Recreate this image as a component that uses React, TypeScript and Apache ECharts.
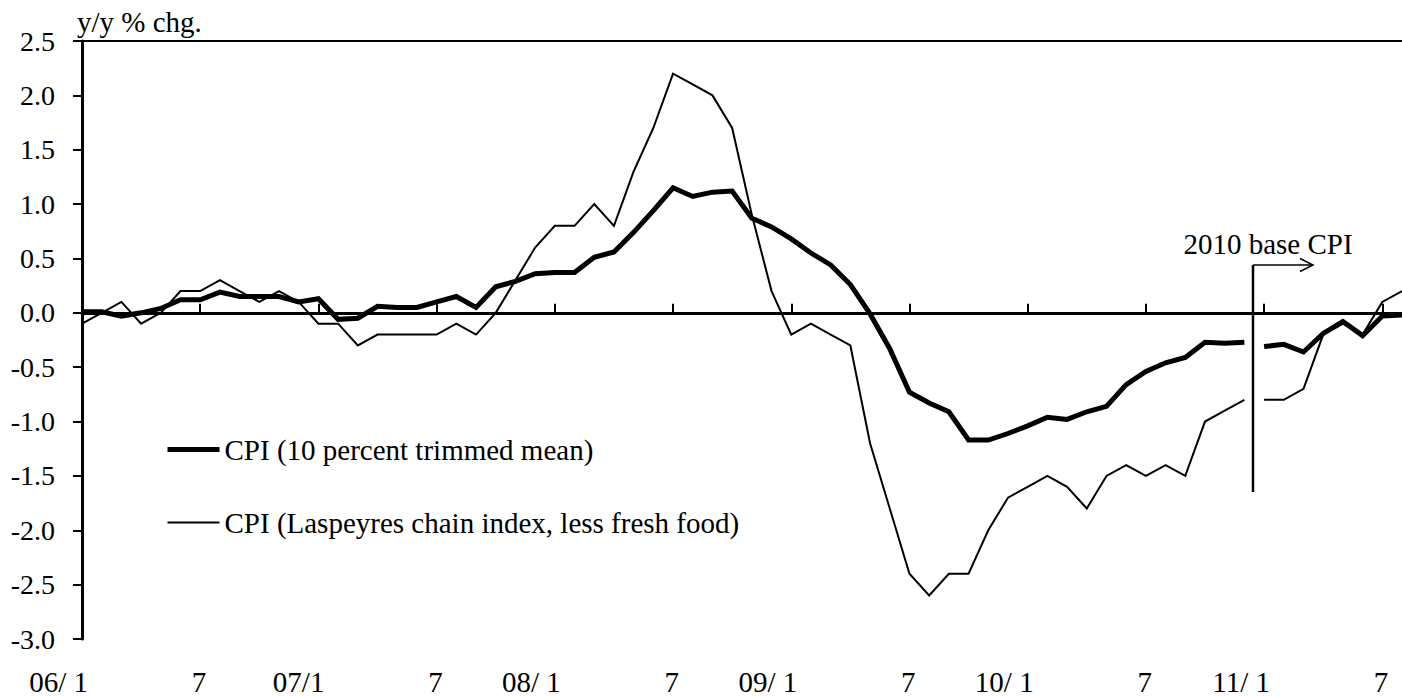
import React, { useEffect, useRef } from "react";
import * as echarts from "echarts";

const FONT = '"Liberation Serif", "Times New Roman", Times, serif';

// Monthly categories, 2006/1 – 2011/8
const months: string[] = [];
for (let y = 2006; y <= 2011; y++) {
  for (let m = 1; m <= 12; m++) {
    if (y === 2011 && m > 8) break;
    months.push(`${y}/${m}`);
  }
}

// Tick labels shown every 6 months
const xTickLabels = ["06/ 1", "7", "07/1", "7", "08/ 1", "7", "09/ 1", "7", "10/ 1", "7", "11/ 1", "7"];

const NAME_TRIM = "CPI (10 percent trimmed mean)";
const NAME_LASP = "CPI (Laspeyres chain index, less fresh food)";

// 2005 base, 2006/1 – 2010/12
const trimmedMeanOld = [
  0.01, 0.01, -0.03, 0.0, 0.04, 0.12, 0.12, 0.19, 0.15, 0.15, 0.15, 0.1,
  0.13, -0.06, -0.05, 0.06, 0.05, 0.05, 0.1, 0.15, 0.05, 0.24, 0.29, 0.36,
  0.37, 0.37, 0.51, 0.56, 0.74, 0.94, 1.15, 1.07, 1.11, 1.12, 0.87, 0.79,
  0.68, 0.55, 0.44, 0.26, -0.01, -0.33, -0.73, -0.83, -0.91, -1.17, -1.17, -1.11,
  -1.04, -0.96, -0.98, -0.91, -0.86, -0.66, -0.54, -0.46, -0.41, -0.27, -0.28, -0.27,
];
// 2010 base, 2011/1 – 2011/8
const trimmedMeanNew = [-0.31, -0.29, -0.36, -0.19, -0.08, -0.21, -0.03, -0.02];

const laspeyresOld = [
  -0.1, 0.0, 0.1, -0.1, 0.0, 0.2, 0.2, 0.3, 0.2, 0.1, 0.2, 0.1,
  -0.1, -0.1, -0.3, -0.2, -0.2, -0.2, -0.2, -0.1, -0.2, 0.0, 0.3, 0.6,
  0.8, 0.8, 1.0, 0.8, 1.3, 1.7, 2.2, 2.1, 2.0, 1.7, 0.9, 0.2,
  -0.2, -0.1, -0.2, -0.3, -1.2, -1.8, -2.4, -2.6, -2.4, -2.4, -2.0, -1.7,
  -1.6, -1.5, -1.6, -1.8, -1.5, -1.4, -1.5, -1.4, -1.5, -1.0, -0.9, -0.8,
];
const laspeyresNew = [-0.8, -0.8, -0.7, -0.2, -0.1, -0.2, 0.1, 0.2];

const pad = (n: number) => Array(n).fill(null);

export default function App() {
  const ref = useRef<HTMLDivElement>(null);

  useEffect(() => {
    if (!ref.current) return;
    const chart = echarts.init(ref.current, undefined, { renderer: "svg" });
    const oldLen = trimmedMeanOld.length;
    const newLen = trimmedMeanNew.length;

    const thick = { color: "#000", width: 5, cap: "butt", join: "miter" };
    const thin = { color: "#000", width: 2, cap: "butt", join: "miter" };

    chart.setOption({
      animation: false,
      backgroundColor: "#fff",
      textStyle: { fontFamily: FONT, color: "#000" },
      grid: { left: 82, right: -3, top: 41, bottom: 56, containLabel: false },
      legend: {
        orient: "vertical",
        left: 165,
        top: 435,
        padding: 0,
        itemWidth: 52,
        itemHeight: 14,
        itemGap: 44,
        data: [
          { name: NAME_TRIM, lineStyle: { width: 5, color: "#000" } },
          { name: NAME_LASP, lineStyle: { width: 2, color: "#000" } },
        ],
        itemStyle: { opacity: 0 },
        textStyle: { fontFamily: FONT, fontSize: 29, color: "#000" },
        selectedMode: false,
      },
      xAxis: {
        type: "category",
        data: months,
        boundaryGap: false,
        axisLine: { show: true, lineStyle: { color: "#000", width: 3 } },
        axisTick: {
          show: true,
          inside: true,
          length: 9,
          interval: (i: number) => i % 6 === 0,
          lineStyle: { color: "#000", width: 2 },
        },
        axisLabel: {
          interval: (i: number) => i % 6 === 0,
          formatter: (_v: string, i: number) => xTickLabels[Math.floor(i / 6)] ?? "",
          fontFamily: FONT,
          fontSize: 29,
          color: "#000",
          margin: 28,
          align: "right",
          padding: [0, -6, 0, 0],
        },
        splitLine: { show: false },
      },
      yAxis: {
        type: "value",
        min: -3,
        max: 2.5,
        interval: 0.5,
        name: "y/y % chg.",
        nameLocation: "end",
        nameGap: 5,
        nameTextStyle: {
          fontFamily: FONT,
          fontSize: 29,
          color: "#000",
          align: "left",
          verticalAlign: "bottom",
          padding: [0, 0, 0, -5],
        },
        axisLine: { show: true, lineStyle: { color: "#000", width: 3 } },
        axisTick: { show: true, inside: false, length: 9, lineStyle: { color: "#000", width: 2 } },
        axisLabel: {
          formatter: (v: number) => v.toFixed(1),
          fontFamily: FONT,
          fontSize: 28,
          color: "#000",
          margin: 27,
        },
        splitLine: { show: false },
      },
      series: [
        {
          name: NAME_TRIM,
          type: "line",
          z: 4,
          data: trimmedMeanOld.concat(pad(newLen)),
          symbol: "none",
          lineStyle: thick,
          itemStyle: { color: "#000" },
        },
        {
          name: NAME_TRIM,
          type: "line",
          z: 4,
          data: pad(oldLen).concat(trimmedMeanNew),
          symbol: "none",
          lineStyle: thick,
          itemStyle: { color: "#000" },
        },
        {
          name: NAME_LASP,
          type: "line",
          z: 3,
          data: laspeyresOld.concat(pad(newLen)),
          symbol: "none",
          lineStyle: thin,
          itemStyle: { color: "#000" },
          markLine: {
            silent: true,
            symbol: ["none", "none"],
            label: { show: false },
            lineStyle: { color: "#000", width: 2, type: "solid" },
            data: [{ yAxis: 0 }, { yAxis: 2.5 }],
          },
        },
        {
          name: NAME_LASP,
          type: "line",
          z: 3,
          data: pad(oldLen).concat(laspeyresNew),
          symbol: "none",
          lineStyle: thin,
          itemStyle: { color: "#000" },
        },
      ],
      graphic: [
        {
          type: "line",
          shape: { x1: 1253, y1: 265, x2: 1253, y2: 492 },
          style: { stroke: "#000", lineWidth: 2.5 },
          silent: true,
        },
        {
          type: "line",
          shape: { x1: 1253, y1: 265, x2: 1313, y2: 265 },
          style: { stroke: "#000", lineWidth: 1.5 },
          silent: true,
        },
        {
          type: "polyline",
          shape: { points: [[1300, 258.5], [1313, 265], [1300, 271.5]] },
          style: { stroke: "#000", lineWidth: 1.5, fill: "none" },
          silent: true,
        },
        {
          type: "text",
          x: 1268,
          y: 244,
          style: {
            text: "2010 base CPI",
            fontFamily: FONT,
            fontSize: 29,
            fill: "#000",
            align: "center",
            verticalAlign: "middle",
          },
          silent: true,
        },
      ],
    });
    return () => chart.dispose();
  }, []);

  return (
    <div
      ref={ref}
      style={{ position: "fixed", left: 0, top: 0, width: 1402, height: 696, background: "#fff" }}
    />
  );
}
